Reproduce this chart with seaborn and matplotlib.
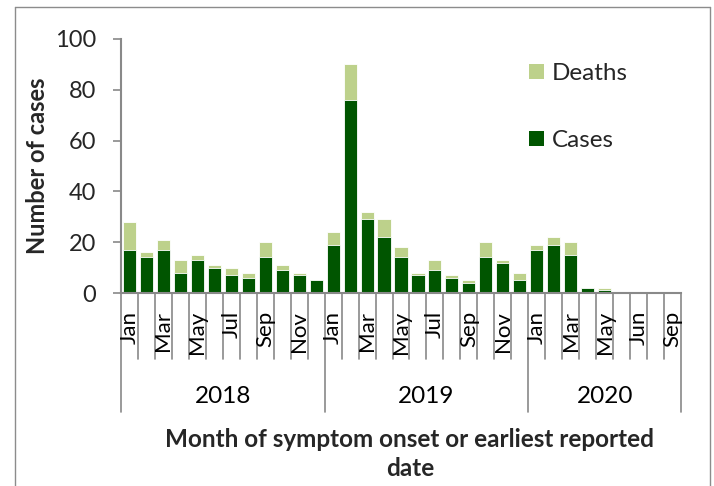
import matplotlib
matplotlib.use("Agg")
import matplotlib.pyplot as plt
import matplotlib.patches as mpatches
from matplotlib.lines import Line2D
import seaborn as sns
import pandas as pd

# ---- data ----
years = ["2018", "2019", "2020"]
months_per_year = [12, 12, 9]
month_names = ["Jan", "Feb", "Mar", "Apr", "May", "Jun", "Jul", "Aug", "Sep", "Oct", "Nov", "Dec"]
tick_labels = ["Jan", "", "Mar", "", "May", "", "Jul", "", "Sep", "", "Nov", "",
               "Jan", "", "Mar", "", "May", "", "Jul", "", "Sep", "", "Nov", "",
               "Jan", "", "Mar", "", "May", "", "Jun", "", "Sep"]
cases = [17, 14, 17, 8, 13, 10, 7, 6, 14, 9, 7, 5,
         19, 76, 29, 22, 14, 7, 9, 6, 4, 14, 12, 5,
         17, 19, 15, 2, 1, 0, 0, 0, 0]
deaths = [11, 2, 4, 5, 2, 1, 3, 2, 6, 2, 1, 0,
          5, 14, 3, 7, 4, 1, 4, 1, 1, 6, 1, 3,
          2, 3, 5, 0, 1, 0, 0, 0, 0]

periods = []
for y, n in zip(years, months_per_year):
    for m in range(n):
        periods.append(f"{y}-{month_names[m]}")

df = pd.DataFrame({"period": periods, "cases": cases, "deaths": deaths})
df["total"] = df["cases"] + df["deaths"]

dark = "#005500"
light = "#BDD18B"
grey = "#898989"

sns.set_style("white")
plt.rcParams["font.family"] = ["Lato", "DejaVu Sans"]

W, H = 714, 486
fig = plt.figure(figsize=(W / 100, H / 100), dpi=100)
ax = fig.add_axes([121 / W, 1 - 293 / H, (681 - 121) / W, (293 - 39) / H])

sns.barplot(data=df, x="period", y="total", order=periods, color=light,
            width=0.77, edgecolor="white", linewidth=0.6, errorbar=None,
            saturation=1, ax=ax)
sns.barplot(data=df, x="period", y="cases", order=periods, color=dark,
            width=0.77, edgecolor="white", linewidth=0.6, errorbar=None,
            saturation=1, ax=ax)

n = len(periods)
ax.set_xlim(-0.5, n - 0.5)
ax.set_ylim(0, 100)
ax.set_yticks([0, 20, 40, 60, 80, 100])
ax.tick_params(axis="y", length=5.8, width=1.2, color=grey, pad=12, labelsize=17,
               direction="out", left=True)
ax.tick_params(axis="x", length=0, labelbottom=False)
ax.set_xlabel("")
ax.set_ylabel("")
for s in ["top", "right"]:
    ax.spines[s].set_visible(False)
for s in ["left", "bottom"]:
    ax.spines[s].set_color(grey)
    ax.spines[s].set_linewidth(1.5)

trans = ax.get_xaxis_transform()
axh = 293 - 39
minor_bottom = -(359 - 293) / axh
group_bottom = -(412 - 293) / axh
group_edges = [-0.5]
acc = 0
for c in months_per_year:
    acc += c
    group_edges.append(acc - 0.5)
for i in range(n + 1):
    xb = i - 0.5
    yb = group_bottom if xb in group_edges else minor_bottom
    ax.add_line(Line2D([xb, xb], [0, yb], transform=trans, color=grey,
                       lw=1.2, clip_on=False))

label_top = -(311 - 293) / axh
for i, lab in enumerate(tick_labels):
    if lab:
        ax.text(i, label_top, lab, transform=trans, rotation=90, ha="center",
                va="top", fontsize=16, color="black")

year_y = -(396 - 293) / axh
for k, y in enumerate(years):
    xc = (group_edges[k] + group_edges[k + 1]) / 2
    ax.text(xc, year_y, y, transform=trans, ha="center", va="center",
            fontsize=17.5, color="black")

# legend
handles = [mpatches.Patch(facecolor=light, edgecolor="none", label="Deaths"),
           mpatches.Patch(facecolor=dark, edgecolor="none", label="Cases")]
fig.legend(handles=handles, loc="upper left", bbox_to_anchor=(529 / W, 1 - 63 / H),
           frameon=False, fontsize=17.5, handlelength=0.6, handleheight=0.6,
           handletextpad=0.35, labelspacing=1.9, borderpad=0, borderaxespad=0)

fig.text(38 / W, 1 - 166 / H, "Number of cases", rotation=90, ha="center",
         va="center", fontsize=17, fontweight="bold")
fig.text(410 / W, 1 - 454 / H, "Month of symptom onset or earliest reported\ndate",
         ha="center", va="center", fontsize=17.5, fontweight="bold", linespacing=1.3)

# chart-area border
bc = "#8C8C8C"
fig.add_artist(Line2D([14.5 / W, 14.5 / W], [-0.01, 1 - 7 / H], color=bc, lw=1))
fig.add_artist(Line2D([14.5 / W, 710 / W], [1 - 7 / H, 1 - 7 / H], color=bc, lw=1))
fig.add_artist(Line2D([710 / W, 710 / W], [-0.01, 1 - 7 / H], color=bc, lw=1))

fig.savefig("out.png", dpi=100)
